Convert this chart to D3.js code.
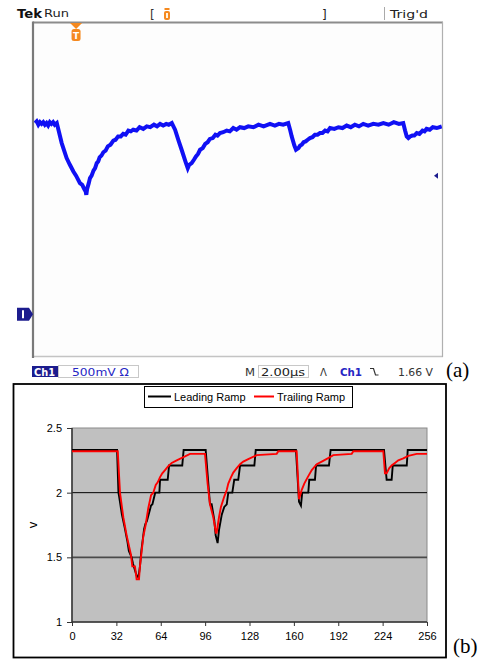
<!DOCTYPE html>
<html><head><meta charset="utf-8">
<script src="https://cdn.jsdelivr.net/npm/d3@7"></script>
<style>html,body{margin:0;padding:0;background:#fff;}svg{display:block;}</style>
</head><body>
<svg id="c" width="485" height="669"></svg>
<script>
// ---------- Panel (a): oscilloscope capture ----------
const scopeTimeDomain = [0, 20];      // µs, 2.00 µs/div x 10 div
const scopeVoltDomain = [-0.5, 3.5];  // V, 500 mV/div
const triggerTime = 2.1;              // µs
const triggerLevel = 1.66;            // V
const scopeTrace = [
  [0.10,2.29],[0.18,2.31],[0.26,2.27],[0.34,2.30],[0.42,2.28],[0.5,2.30],[0.58,2.27],[0.66,2.29],[0.74,2.26],[0.82,2.30],[0.9,2.28],[0.98,2.30],[1.06,2.27],[1.16,2.29],
  [1.25,2.20],[1.40,2.05],[1.52,1.96],[1.64,1.87],[1.80,1.79],[1.97,1.71],[2.10,1.66],[2.29,1.57],[2.40,1.55],[2.50,1.50],[2.57,1.47],[2.60,1.43],[2.64,1.50],
  [2.72,1.57],[2.78,1.63],[2.86,1.66],[2.95,1.72],[3.03,1.75],[3.11,1.81],[3.18,1.83],[3.25,1.88],[3.34,1.90],[3.43,1.94],[3.54,1.96],[3.65,2.01],[3.78,2.03],
  [3.92,2.08],[4.03,2.09],[4.15,2.13],[4.28,2.13],[4.40,2.16],[4.52,2.15],[4.65,2.20],[4.77,2.19],[4.89,2.21],[5.05,2.20],[5.2,2.24],[5.38,2.22],[5.55,2.25],
  [5.72,2.24],[5.9,2.27],[6.05,2.25],[6.2,2.28],[6.35,2.26],[6.5,2.28],[6.62,2.27],[6.77,2.29],
  [6.93,2.21],[7.1,2.08],[7.25,1.97],[7.45,1.82],[7.55,1.75],[7.62,1.79],[7.74,1.81],[7.85,1.85],[7.95,1.89],[8.05,1.92],[8.15,1.97],[8.28,1.99],[8.4,2.04],
  [8.52,2.06],[8.63,2.10],[8.77,2.11],[8.9,2.15],[9.0,2.14],[9.12,2.17],[9.28,2.18],[9.45,2.20],[9.6,2.19],[9.77,2.23],[9.93,2.21],[10.1,2.24],[10.3,2.23],
  [10.5,2.25],[10.75,2.24],[11.0,2.27],[11.25,2.25],[11.56,2.28],[11.8,2.26],[12.0,2.28],[12.2,2.27],[12.45,2.29],
  [12.55,2.20],[12.62,2.13],[12.75,2.02],[12.83,1.97],[12.95,1.99],[13.03,2.02],[13.11,2.03],[13.2,2.06],[13.3,2.07],[13.4,2.09],[13.51,2.11],[13.63,2.12],
  [13.75,2.15],[13.88,2.15],[14.0,2.17],[14.12,2.17],[14.25,2.20],[14.37,2.19],[14.49,2.23],[14.7,2.22],[14.9,2.24],[15.1,2.23],[15.3,2.26],[15.5,2.24],
  [15.7,2.27],[15.9,2.25],[16.11,2.28],[16.35,2.26],[16.6,2.28],[16.85,2.27],[17.09,2.29],[17.35,2.27],[17.6,2.30],[17.85,2.28],[18.06,2.29],
  [18.15,2.20],[18.23,2.13],[18.31,2.11],[18.4,2.13],[18.5,2.14],[18.6,2.14],[18.72,2.17],[18.85,2.16],[19.0,2.20],[19.1,2.19],[19.2,2.22],[19.35,2.21],
  [19.5,2.24],[19.7,2.23],[19.94,2.25]
];

// ---------- Panel (b): simulated ramps ----------
const xTicks = [0, 32, 64, 96, 128, 160, 192, 224, 256];
const yTicks = [1, 1.5, 2, 2.5];
const seriesNames = ["Leading Ramp", "Trailing Ramp"];
const leadingRamp = [
  [0,2.33],[32.5,2.33],[33.5,2.0],[34,1.97],[36,1.83],[38,1.73],[40,1.62],[41,1.55],[43,1.50],[44,1.45],[46,1.38],[47,1.35],[48,1.35],[49,1.43],[50,1.55],
  [52,1.72],[53,1.76],[54,1.78],[56,1.86],[57,1.90],[58,1.91],[60,2.0],[63,2.0],[63.5,2.1],[69,2.1],[70,2.21],[79.5,2.21],[80.5,2.33],
  [96.4,2.33],[99.5,1.91],[100.7,1.91],[102.6,1.79],[103.6,1.67],[105,1.61],[106,1.71],[108,1.83],[109.8,1.89],[111.6,1.91],[112.7,2.0],[115.6,2.0],
  [117,2.1],[119.9,2.1],[121.2,2.21],[131.5,2.21],[132.5,2.33],
  [161.5,2.33],[163.7,1.93],[165.1,1.90],[166,2.0],[170.4,2.0],[171.1,2.1],[175.2,2.1],[176,2.21],[185.3,2.21],[186.5,2.33],
  [225,2.33],[226.9,2.10],[230.5,2.10],[231.3,2.21],[241.4,2.21],[242.1,2.33],[256,2.33]
];
const trailingRamp = [
  [0,2.32],[33,2.32],[34.6,2.0],[37,1.81],[39.4,1.67],[42.5,1.52],[43.5,1.43],[45.4,1.43],[46.6,1.33],[48.3,1.33],[49,1.43],[51.4,1.66],[53.1,1.75],
  [55,1.88],[57,1.98],[58.6,2.0],[60.4,2.06],[61.8,2.08],[63.5,2.12],[65.1,2.15],[67.1,2.175],[69.4,2.205],[71.9,2.23],[75.5,2.25],[81.5,2.28],[85.1,2.30],
  [95.9,2.30],[97.8,2.07],[99.5,1.91],[101.9,1.81],[103.8,1.69],[104.3,1.69],[106,1.81],[107.4,1.89],[109.8,1.97],[111.6,2.02],[112.7,2.07],[114.7,2.12],
  [116.3,2.155],[118.8,2.19],[121.2,2.22],[123.5,2.24],[127.1,2.26],[133.2,2.29],[147.6,2.30],[148.8,2.32],
  [162,2.32],[163.7,1.95],[165.6,2.02],[167.5,2.07],[170,2.12],[172.9,2.175],[176.5,2.22],[180.1,2.24],[184.4,2.265],[188.4,2.29],[201.7,2.30],[202.9,2.32],
  [224.5,2.32],[225.7,2.15],[226.9,2.15],[228.8,2.19],[230.5,2.21],[232.9,2.23],[235.3,2.25],[238.9,2.265],[242.5,2.285],[248.6,2.30],[256,2.30]
];

const svg = d3.select("#c");

// ================= Panel (a) =================
const SL = 33, SR = 443, ST = 22, SB = 357;
const tS = d3.scaleLinear().domain(scopeTimeDomain).range([SL, SR]);
const vS = d3.scaleLinear().domain(scopeVoltDomain).range([356, ST]);
const scopeFont = "'DejaVu Sans', sans-serif";

svg.append("rect").attr("x", SL).attr("y", ST).attr("width", SR - SL).attr("height", SB - ST).attr("fill", "#fdfdfd");
svg.append("defs").append("clipPath").attr("id", "sc").append("rect")
  .attr("x", SL + 1).attr("y", ST + 1).attr("width", SR - SL - 2).attr("height", SB - ST - 2);

svg.append("path").datum(scopeTrace)
  .attr("clip-path", "url(#sc)")
  .attr("fill", "none").attr("stroke", "#1010f4").attr("stroke-width", 4).attr("stroke-linejoin", "miter")
  .attr("d", d3.line().x(d => tS(d[0])).y(d => vS(d[1])));

// frame
svg.append("line").attr("x1", SL).attr("x2", SR).attr("y1", ST + 0.5).attr("y2", ST + 0.5).attr("stroke", "#8c8c8c").attr("stroke-width", 2);
svg.append("line").attr("x1", SL).attr("x2", SR).attr("y1", SB - 0.5).attr("y2", SB - 0.5).attr("stroke", "#c4c4c4").attr("stroke-width", 1.5);
svg.append("line").attr("x1", SR - 0.5).attr("x2", SR - 0.5).attr("y1", ST).attr("y2", SB).attr("stroke", "#b0b0b0").attr("stroke-width", 1.2);
svg.append("line").attr("x1", SL).attr("x2", SL).attr("y1", ST - 0.5).attr("y2", SB + 1).attr("stroke", "#7a7a7a").attr("stroke-width", 2.2);

// top bar
svg.append("text").attr("x", 17).attr("y", 18).attr("font-family", scopeFont).attr("font-weight", "bold")
  .attr("font-size", 12).attr("fill", "#111").attr("textLength", 25).attr("lengthAdjust", "spacingAndGlyphs").text("Tek");
svg.append("text").attr("x", 44).attr("y", 17).attr("font-family", scopeFont)
  .attr("font-size", 10).attr("fill", "#222").attr("textLength", 25).attr("lengthAdjust", "spacingAndGlyphs").text("Run");
svg.append("text").attr("x", 150).attr("y", 19).attr("font-family", scopeFont).attr("font-size", 12).attr("fill", "#333").text("[");
svg.append("text").attr("x", 322).attr("y", 19).attr("font-family", scopeFont).attr("font-size", 12).attr("fill", "#222").text("]");
svg.append("line").attr("x1", 384.5).attr("x2", 384.5).attr("y1", 7).attr("y2", 20).attr("stroke", "#aaa").attr("stroke-width", 1);
svg.append("text").attr("x", 390).attr("y", 18).attr("font-family", scopeFont)
  .attr("font-size", 10.5).attr("fill", "#222").attr("textLength", 38).attr("lengthAdjust", "spacingAndGlyphs").text("Trig'd");
// horizontal position marker (orange)
svg.append("rect").attr("x", 164.5).attr("y", 8).attr("width", 5).attr("height", 2).attr("fill", "#f5891f");
svg.append("rect").attr("x", 164).attr("y", 11).attr("width", 6).attr("height", 9).attr("rx", 2).attr("fill", "#f5891f");
svg.append("rect").attr("x", 166).attr("y", 13).attr("width", 2).attr("height", 5).attr("fill", "#fff3e0");

// trigger-time marker
const tx = tS(triggerTime);
svg.append("path").attr("d", `M${tx-6},${ST+1}L${tx+6},${ST+1}L${tx},${ST+7}Z`).attr("fill", "#f5891f");
svg.append("rect").attr("x", tx - 4.5).attr("y", ST + 7).attr("width", 9).attr("height", 12).attr("rx", 2.5).attr("fill", "#f5891f");
svg.append("text").attr("x", tx).attr("y", ST + 17).attr("text-anchor", "middle").attr("font-family", scopeFont)
  .attr("font-weight", "bold").attr("font-size", 9).attr("fill", "#fff").text("T");

// ground marker (channel 1)
const gy = vS(0);
svg.append("path").attr("d", `M17,${gy-6.5}L29,${gy-6.5}L33,${gy}L29,${gy+6.5}L17,${gy+6.5}Z`).attr("fill", "#1c1c8e");
svg.append("rect").attr("x", 22).attr("y", gy - 4).attr("width", 2).attr("height", 8).attr("fill", "#fff");

// trigger level marker
const ly = vS(triggerLevel);
svg.append("path").attr("d", `M434,${ly}L438,${ly-3}L438,${ly+3}Z`).attr("fill", "#1c1c8e");

// status bar
const sy = 375.5;
svg.append("rect").attr("x", 32).attr("y", 366).attr("width", 26).attr("height", 11).attr("fill", "#1c1c8e");
svg.append("text").attr("x", 34).attr("y", sy).attr("font-family", scopeFont).attr("font-weight", "bold")
  .attr("font-size", 10).attr("fill", "#fff").attr("textLength", 21).attr("lengthAdjust", "spacingAndGlyphs").text("Ch1");
svg.append("rect").attr("x", 58.5).attr("y", 365.5).attr("width", 80).attr("height", 12).attr("fill", "none").attr("stroke", "#c8c8c8");
svg.append("text").attr("x", 72).attr("y", sy).attr("font-family", scopeFont)
  .attr("font-size", 10).attr("fill", "#2626c4").attr("textLength", 57).attr("lengthAdjust", "spacingAndGlyphs").text("500mV Ω");
svg.append("text").attr("x", 245).attr("y", sy).attr("font-family", scopeFont)
  .attr("font-size", 10).attr("fill", "#333").attr("textLength", 10).attr("lengthAdjust", "spacingAndGlyphs").text("M");
svg.append("rect").attr("x", 258.5).attr("y", 365.5).attr("width", 50).attr("height", 12).attr("fill", "none").attr("stroke", "#c8c8c8");
svg.append("text").attr("x", 261).attr("y", sy).attr("font-family", scopeFont)
  .attr("font-size", 10).attr("fill", "#222").attr("textLength", 44).attr("lengthAdjust", "spacingAndGlyphs").text("2.00µs");
svg.append("text").attr("x", 320).attr("y", sy).attr("font-family", scopeFont)
  .attr("font-size", 10).attr("fill", "#333").text("Λ");
svg.append("text").attr("x", 340).attr("y", sy).attr("font-family", scopeFont).attr("font-weight", "bold")
  .attr("font-size", 10).attr("fill", "#2626c4").attr("textLength", 22).attr("lengthAdjust", "spacingAndGlyphs").text("Ch1");
svg.append("path").attr("d", "M370,368.5h3.5l2,6.5h3").attr("fill", "none").attr("stroke", "#333").attr("stroke-width", 1.2);
svg.append("text").attr("x", 398).attr("y", sy).attr("font-family", scopeFont)
  .attr("font-size", 10).attr("fill", "#333").attr("textLength", 35).attr("lengthAdjust", "spacingAndGlyphs").text("1.66 V");
svg.append("text").attr("x", 446).attr("y", 377).attr("font-family", "'Liberation Serif', 'Times New Roman', serif")
  .attr("font-size", 21).attr("fill", "#000").text("(a)");

// ================= Panel (b) =================
const PL = 72, PR = 427, PT = 428, PB = 622;
const x = d3.scaleLinear().domain([0, 256]).range([PL, PR]);
const y = d3.scaleLinear().domain([1, 2.5]).range([PB, PT]);
const font = "'Liberation Sans', Arial, sans-serif";

svg.append("rect").attr("x", 13.5).attr("y", 384).attr("width", 432.5).attr("height", 273.5)
  .attr("fill", "#fff").attr("stroke", "#000").attr("stroke-width", 1.8);

svg.append("rect").attr("x", PL).attr("y", PT).attr("width", PR - PL).attr("height", PB - PT)
  .attr("fill", "#c0c0c0").attr("stroke", "#8a8a8a").attr("stroke-width", 1);

// gridlines
svg.append("g").selectAll("line").data(yTicks.filter(v => v > 1 && v < 2.5)).join("line")
  .attr("x1", PL).attr("x2", PR).attr("y1", d => y(d)).attr("y2", d => y(d))
  .attr("stroke", d => d === 2 ? "#000" : "#4a4a4a").attr("stroke-width", d => d === 2 ? 1 : 1.8);

// axes
const yAxis = d3.axisLeft(y).tickValues(yTicks).tickSize(5).tickPadding(5).tickFormat(d3.format("~g"));
const xAxis = d3.axisBottom(x).tickValues(xTicks).tickSize(4).tickPadding(6).tickFormat(d3.format("d"));
const gy2 = svg.append("g").attr("transform", `translate(${PL},0)`).call(yAxis);
const gx2 = svg.append("g").attr("transform", `translate(0,${PB})`).call(xAxis);
[gy2, gx2].forEach(g => {
  g.select(".domain").attr("stroke", "#333").attr("stroke-width", 1.5);
  g.selectAll(".tick line").attr("stroke", "#333");
  g.selectAll("text").attr("font-family", font).attr("font-size", 11).attr("fill", "#000");
});
gy2.select(".domain").attr("d", `M0,${PB}V${PT}`);
gx2.select(".domain").attr("d", `M${PL},0H${PR}`);

svg.append("text").attr("transform", "translate(37,525) rotate(-90)").attr("text-anchor", "middle")
  .attr("font-family", font).attr("font-size", 13).attr("fill", "#000").text("v");

// series
const line = d3.line().x(d => x(d[0])).y(d => y(d[1]));
const colors = ["#000000", "#ff0000"];
[leadingRamp, trailingRamp].forEach((s, i) => {
  svg.append("path").datum(s).attr("fill", "none").attr("stroke", colors[i]).attr("stroke-width", 1.9)
    .attr("stroke-linejoin", "miter").attr("d", line);
});

// legend
svg.append("rect").attr("x", 144.5).attr("y", 386.5).attr("width", 208).attr("height", 21)
  .attr("fill", "#fff").attr("stroke", "#000").attr("stroke-width", 1);
const legItems = [{x1: 148, x2: 171, tx: 174}, {x1: 254, x2: 274, tx: 277}];
legItems.forEach((it, i) => {
  svg.append("line").attr("x1", it.x1).attr("x2", it.x2).attr("y1", 396.5).attr("y2", 396.5)
    .attr("stroke", colors[i]).attr("stroke-width", 2);
  svg.append("text").attr("x", it.tx).attr("y", 400.5).attr("font-family", font).attr("font-size", 11)
    .attr("fill", "#000").text(seriesNames[i]);
});

svg.append("text").attr("x", 453).attr("y", 653).attr("font-family", "'Liberation Serif', 'Times New Roman', serif")
  .attr("font-size", 21).attr("fill", "#000").text("(b)");
</script>
</body></html>
